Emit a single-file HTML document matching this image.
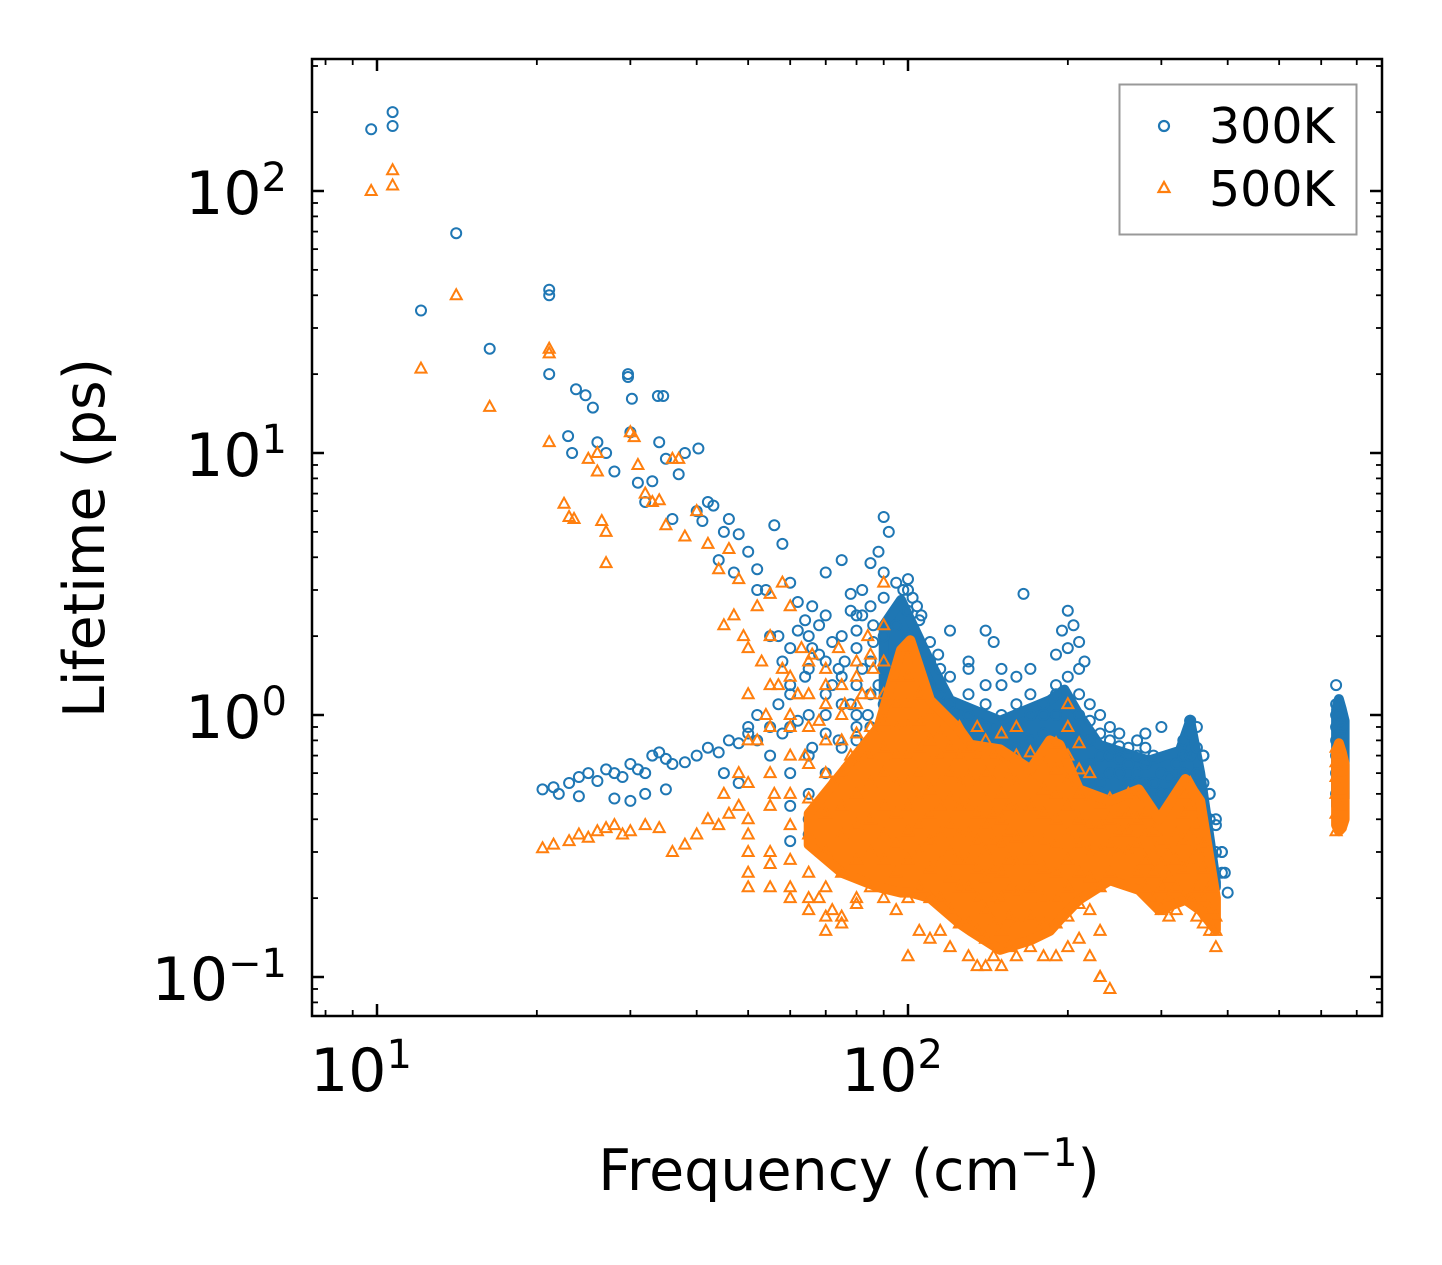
<!DOCTYPE html>
<html><head><meta charset="utf-8"><style>
html,body{margin:0;padding:0;background:#fff;}
svg{display:block;font-family:"DejaVu Sans","Liberation Sans",sans-serif;}
</style></head><body>
<svg id="chart" width="1442" height="1265" viewBox="0 0 1442 1265" xmlns="http://www.w3.org/2000/svg">
<rect x="0" y="0" width="1442" height="1265" fill="#fff"/>
<g id="marks300"></g>
<g id="marks500"></g>
<g id="axes"></g>
<text x="849" y="1190" font-size="57" text-anchor="middle">Frequency (cm<tspan dy="-24" font-size="39">−1</tspan><tspan dy="24">)</tspan></text>
<text transform="translate(104,538) rotate(-90)" font-size="57" text-anchor="middle">Lifetime (ps)</text>
<g>
<rect x="1119.5" y="84.5" width="237" height="150" fill="#fff" stroke="#999" stroke-width="2"/>
<circle cx="1164" cy="126" r="5" fill="none" stroke="#1f77b4" stroke-width="2.2"/>
<text x="1209" y="143" font-size="49">300K</text>
<path d="M1164,182 L1169.5,192 L1158.5,192 Z" fill="none" stroke="#ff7f0e" stroke-width="2.2"/>
<text x="1209" y="206" font-size="49">500K</text>
</g>
</svg>
<script>
// ---- data (frequency cm^-1, lifetime ps) ----
const xTicks = [10, 100];
const yTicks = [100, 10, 1, 0.1];
const xTickLabels = ["10", "10"];
const xTickExps = ["1", "2"];
const yTickLabels = ["10", "10", "10", "10"];
const yTickExps = ["2", "1", "0", "−1"];

const sparse300F = [9.75,10.7,10.7,12.1,14.1,16.3,21.1,21.1,21.1,22.9,23.3,23.7,24.7,25.5,29.7,29.7,30.2,33.8,34.6,40.3,26,27,28,30,31,32,33,34,35,36,37,38,40,41,42,43,45,46,48,50,52,54,56,58,60,62,64,66,68,70,72,75,78,80,82,85,88,90,92,95,98,100,102,104,106,110,114,120,130,140,145,150,160,165,170,180,190,195,200,205,210,215,20.5,21.5,23,24,25,26,27,28,29,30,31,32,33,34,35,36,38,40,42,44,46,48,50,52,55,58,22,24,28,30,32,35,300,320,340,360,370,380,390,395,400,44,47,52,57,
 45,48,50,52,55,57,60,62,64,66,68,70,72,74,76,78,80,82,84,86,88,55,58,62,66,70,74,78,82,86,65,72,78,60,68];
const sparse300T = [172,200,177,35,69,25,42,40,20,11.6,10,17.5,16.6,14.9,20,19.5,16.1,16.5,16.5,10.4,11,10,8.5,12,7.7,6.5,7.8,11,9.5,5.6,8.3,10,6,5.5,6.5,6.3,5,5.6,4.9,4.2,3.6,3.0,5.3,4.5,3.2,2.7,2.3,2.6,2.2,3.5,1.9,3.9,2.5,2.1,3.0,3.8,4.2,5.7,5.0,3.2,3.0,3.3,2.8,2.6,2.4,1.9,1.7,2.1,1.6,2.1,1.9,1.5,1.4,2.9,1.5,1.1,1.2,2.1,2.5,2.2,1.9,1.6,0.52,0.53,0.55,0.58,0.6,0.56,0.62,0.6,0.58,0.65,0.62,0.6,0.7,0.72,0.68,0.65,0.66,0.7,0.75,0.72,0.8,0.78,0.85,0.8,0.9,0.85,0.5,0.49,0.48,0.47,0.5,0.52,0.9,0.5,0.95,0.7,0.5,0.4,0.3,0.25,0.21,3.9,3.5,3.0,2.0,
 0.6,0.55,0.9,1.0,0.7,1.1,1.2,0.95,1.4,0.75,1.7,1.0,1.3,0.8,1.6,1.1,0.9,1.5,1.0,1.9,1.3,2.0,1.6,2.1,1.8,2.4,1.5,2.9,2.4,2.2,0.4,0.35,0.45,0.33,0.3];
const dense300F = [60,65,70,75,80,85,90,95,100,105,110,115,120,130,140,150,160,170,180,190,200,210,220,230,240,250,260,270,280,290,300,310,320,330,340,350,360,370,380,390,640,650,655];
const dense300T = [
 [0.45,0.6,0.9,1.3,1.8],[0.35,0.5,0.7,1.0,1.5,2.0],[0.3,0.45,0.6,0.85,1.2,1.6],[0.32,0.5,0.75,1.1,1.4,2.0],
 [0.35,0.55,0.8,1.0,1.3,1.8,2.4],[0.3,0.45,0.65,0.9,1.2,1.6,2.6],[0.4,0.6,0.85,1.1,1.5,2.0,2.8,3.5],[0.35,0.55,0.8,1.0,1.3,1.7,2.2],
 [0.4,0.6,0.8,1.0,1.3,1.6,2.0,2.5,3.0],[0.5,0.7,0.9,1.2,1.5,1.9,2.3],[0.45,0.6,0.8,1.0,1.3,1.6],[0.4,0.55,0.75,0.95,1.2,1.5],
 [0.3,0.5,0.7,0.9,1.1,1.4],[0.35,0.5,0.65,0.8,1.0,1.2,1.5],[0.3,0.45,0.6,0.75,0.9,1.1,1.3],[0.35,0.5,0.65,0.8,1.0,1.3],
 [0.3,0.45,0.6,0.75,0.9,1.1],[0.35,0.5,0.65,0.8,1.0,1.2],[0.25,0.4,0.55,0.7,0.85,1.0],[0.3,0.45,0.6,0.8,1.0,1.3,1.7],
 [0.3,0.5,0.7,0.9,1.1,1.4,1.8],[0.4,0.6,0.8,1.0,1.2,1.5],[0.5,0.65,0.8,0.95,1.1],[0.55,0.7,0.85,1.0],
 [0.6,0.7,0.8,0.9],[0.6,0.68,0.76,0.85],[0.55,0.65,0.75],[0.6,0.7,0.8],[0.55,0.65,0.75,0.85],[0.45,0.55,0.7],
 [0.4,0.5,0.6],[0.42,0.5,0.58],[0.45,0.55,0.65],[0.5,0.6,0.7,0.8],[0.55,0.7,0.85,0.95],[0.5,0.6,0.75,0.9],
 [0.35,0.45,0.55,0.7],[0.3,0.4,0.5],[0.3,0.38],[0.25,0.3],
 [0.5,0.6,0.7,0.8,0.9,1.0,1.1,1.3],[0.45,0.55,0.65,0.75,0.85,0.95,1.0],[0.5,0.6,0.7,0.8,0.9]];
// dense-cloud envelope (frequency, lower, upper lifetime)
const band300F = [90,97,110,120,149,185,197,210,229,284,325,340,355,380];
const band300Lo = [0.4,0.35,0.32,0.3,0.3,0.3,0.3,0.3,0.3,0.3,0.3,0.3,0.28,0.22];
const band300Hi = [2.2,2.75,1.6,1.14,0.95,1.14,1.25,1.0,0.77,0.67,0.73,0.95,0.6,0.23];
const cluster300F = [640,648,656,664];
const cluster300Lo = [0.45,0.42,0.43,0.48];
const cluster300Hi = [1.05,1.15,1.05,0.95];

const sparse500F = [9.75,10.7,10.7,12.1,14.1,16.3,21.1,21.1,21.1,22.5,23,23.5,25,26,26,26.5,27,27,30,30.5,31,32,33,34,35,36,37,38,40,42,44,46,48,52,55,58,60,63,20.5,21.5,23,24,25,26,27,28,29,30,32,34,36,38,40,42,44,46,48,45,47,49,53,57,62,68,72,100,230,240,
 45,48,50,52,54,56,58,60,62,64,66,68,70,72,74,76,78,80,82,84,86,55,60,65,70,75,80,50];
const sparse500T = [100,105,120,21,40,15,25,24,11,6.4,5.7,5.6,9.5,10,8.5,5.5,3.8,5,12,11.5,9,7,6.5,6.6,5.3,9.5,9.5,4.8,6,4.5,3.6,4.3,3.3,2.6,2.9,3.2,2.6,1.8,0.31,0.32,0.33,0.35,0.34,0.36,0.37,0.38,0.35,0.36,0.38,0.37,0.3,0.32,0.35,0.4,0.38,0.42,0.45,2.2,2.4,2.0,1.6,1.3,1.2,0.2,0.18,0.12,0.1,0.09,
 0.5,0.6,0.35,0.8,1.0,0.5,1.5,0.9,1.2,0.7,1.7,0.95,1.3,0.55,1.8,1.1,0.7,1.6,1.2,2.0,1.5,0.27,0.22,0.2,0.17,0.16,0.19,0.22];
const dense500F = [50,55,60,65,70,75,80,85,90,95,100,105,110,115,120,125,130,135,140,145,150,155,160,170,180,190,200,210,220,230,240,250,260,270,280,290,300,310,320,330,340,350,360,370,380,640,650];
const dense500T = [
 [0.25,0.3,0.4,0.55,0.8,1.2,1.8],[0.22,0.3,0.45,0.6,0.9,1.3,2.0],[0.2,0.28,0.38,0.5,0.7,1.0,1.4],[0.18,0.25,0.35,0.48,0.65,0.9,1.2,1.6],
 [0.15,0.22,0.3,0.42,0.6,0.8,1.1,1.5],[0.17,0.25,0.35,0.45,0.6,0.8,1.0,1.3],[0.2,0.28,0.38,0.5,0.65,0.85,1.1,1.4],[0.22,0.3,0.4,0.55,0.7,0.9,1.2,1.7],
 [0.2,0.28,0.35,0.45,0.6,0.75,0.95,1.2,1.6,2.2,3.2],[0.18,0.25,0.32,0.42,0.55,0.7,0.9,1.1,1.4],[0.2,0.28,0.36,0.45,0.55,0.7,0.9,1.1,1.4,1.8],
 [0.15,0.22,0.3,0.38,0.48,0.6,0.75,0.95,1.2],[0.14,0.2,0.26,0.33,0.42,0.52,0.65,0.8,1.0],[0.15,0.2,0.27,0.35,0.45,0.55,0.7,0.85],
 [0.13,0.18,0.24,0.3,0.38,0.48,0.6,0.75],[0.16,0.22,0.28,0.35,0.45,0.55,0.7,0.9],[0.12,0.16,0.22,0.28,0.35,0.45,0.58,0.75],
 [0.11,0.15,0.2,0.26,0.33,0.42,0.55,0.7,0.9],[0.11,0.14,0.18,0.24,0.3,0.38,0.48,0.6,0.8],[0.12,0.16,0.2,0.26,0.33,0.42,0.55,0.7],
 [0.11,0.15,0.2,0.25,0.32,0.4,0.5,0.65,0.85],[0.13,0.17,0.22,0.28,0.36,0.45,0.58],[0.12,0.16,0.21,0.27,0.34,0.43,0.55,0.7,0.9],
 [0.13,0.17,0.22,0.28,0.35,0.45,0.58,0.72],[0.12,0.16,0.2,0.26,0.33,0.42,0.52,0.65],[0.12,0.16,0.2,0.25,0.32,0.4,0.5,0.62,0.78],
 [0.13,0.17,0.22,0.28,0.35,0.45,0.56,0.7,0.9,1.1],[0.14,0.19,0.25,0.32,0.4,0.5,0.62,0.78],[0.12,0.18,0.24,0.3,0.38,0.48,0.6],
 [0.1,0.15,0.22,0.3,0.38,0.46],[0.25,0.32,0.4,0.48],[0.3,0.36,0.42],[0.3,0.36,0.42,0.5],[0.25,0.32,0.4,0.48],
 [0.22,0.28,0.35,0.42],[0.2,0.25,0.3,0.36],[0.18,0.22,0.27,0.33],[0.17,0.2,0.24,0.3],[0.18,0.22,0.28,0.35],
 [0.2,0.26,0.33,0.42,0.5],[0.2,0.27,0.35,0.45,0.55],[0.17,0.22,0.3,0.38],[0.16,0.2,0.26,0.32],[0.15,0.18,0.22],[0.13,0.15,0.17],
 [0.36,0.42,0.5,0.58,0.66,0.75],[0.38,0.45,0.52,0.6,0.7]];
const band500F = [65,75,88,97,101,110,125,131,149,170,185,193,210,240,272,297,333,355,380];
const band500Lo = [0.32,0.25,0.22,0.21,0.21,0.2,0.16,0.15,0.127,0.138,0.15,0.165,0.197,0.234,0.215,0.18,0.197,0.18,0.151];
const band500Hi = [0.42,0.6,0.9,1.77,1.93,1.14,0.88,0.77,0.74,0.62,0.8,0.77,0.52,0.47,0.52,0.40,0.57,0.47,0.2];
const cluster500F = [640,648,656,664];
const cluster500Lo = [0.38,0.36,0.37,0.4];
const cluster500Hi = [0.72,0.78,0.72,0.65];

// ---- axis functions ----
const PX0 = 312, PX1 = 1382, PY0 = 59, PY1 = 1016;
const xScale = f => 377 + 531 * (Math.log10(f) - 1);
const yScale = t => 715 - 262 * Math.log10(t);
const NS = "http://www.w3.org/2000/svg";
function mk(tag, parent, attrs) {
  const el = document.createElementNS(NS, tag);
  for (const k in attrs) el.setAttribute(k, attrs[k]);
  parent.appendChild(el);
  return el;
}
const g3 = document.getElementById('marks300');
const g5 = document.getElementById('marks500');
function band(parent, F, Lo, Hi, color, name) {
  let d = '';
  F.forEach((f, i) => { d += (i ? 'L' : 'M') + xScale(f).toFixed(1) + ',' + yScale(Hi[i]).toFixed(1); });
  for (let i = F.length - 1; i >= 0; i--) d += 'L' + xScale(F[i]).toFixed(1) + ',' + yScale(Lo[i]).toFixed(1);
  const p = mk('path', parent, {d: d + 'Z', fill: color, stroke: color, 'stroke-width': 10, 'stroke-linejoin': 'round'});
  
  
}
function circle(f, t) {
  const c = mk('circle', g3, {cx: xScale(f).toFixed(1), cy: yScale(t).toFixed(1), r: 5, fill: 'none', stroke: '#1f77b4', 'stroke-width': 2});
  
  
}
function tri(f, t) {
  const x = xScale(f), y = yScale(t);
  const p = mk('path', g5, {d: `M${x},${y-6} L${x+5.5},${y+4} L${x-5.5},${y+4} Z`, fill: 'none', stroke: '#ff7f0e', 'stroke-width': 2});
  
  
}
band(g3, band300F, band300Lo, band300Hi, '#1f77b4', 'cloud-300k');
band(g3, cluster300F, cluster300Lo, cluster300Hi, '#1f77b4', 'cluster-300k');
sparse300F.forEach((f, i) => circle(f, sparse300T[i]));
dense300F.forEach((f, i) => dense300T[i].forEach(t => circle(f, t)));
band(g5, band500F, band500Lo, band500Hi, '#ff7f0e', 'cloud-500k');
band(g5, cluster500F, cluster500Lo, cluster500Hi, '#ff7f0e', 'cluster-500k');
sparse500F.forEach((f, i) => tri(f, sparse500T[i]));
dense500F.forEach((f, i) => dense500T[i].forEach(t => tri(f, t)));

// ---- axes ----
const ax = document.getElementById('axes');
const frame = mk('rect', ax, {x: PX0, y: PY0, width: PX1 - PX0, height: PY1 - PY0, fill: 'none', stroke: '#000', 'stroke-width': 2.5});


function line(x1, y1, x2, y2, w) { return mk('line', ax, {x1, y1, x2, y2, stroke: '#000', 'stroke-width': w}); }
for (let d = 0; d <= 2; d++) for (let m = 1; m <= 9; m++) {
  const v = Math.pow(10, d) * m;
  const x = xScale(v);
  if (x < PX0 || x > PX1) continue;
  const L = m === 1 ? 12 : 6, w = m === 1 ? 2.5 : 1.8;
  const a = line(x, PY1, x, PY1 - L, w);  
  const b = line(x, PY0, x, PY0 + L, w);  
}
for (let d = -2; d <= 2; d++) for (let m = 1; m <= 9; m++) {
  const v = Math.pow(10, d) * m;
  const y = yScale(v);
  if (y < PY0 || y > PY1) continue;
  const L = m === 1 ? 12 : 6, w = m === 1 ? 2.5 : 1.8;
  const a = line(PX0, y, PX0 + L, y, w);  
  const b = line(PX1, y, PX1 - L, y, w);  
}
xTicks.forEach((v, i) => {
  const t = mk('text', ax, {x: xScale(v) - 16, y: 1091, 'font-size': 60, 'text-anchor': 'middle'});
  
  
  t.textContent = xTickLabels[i];
  const s = mk('tspan', t, {dy: -23, 'font-size': 40});
  s.textContent = xTickExps[i];
});
yTicks.forEach((v, i) => {
  const t = mk('text', ax, {x: 287, y: yScale(v) + 23, 'font-size': 60, 'text-anchor': 'end'});
  
  
  t.textContent = yTickLabels[i];
  const s = mk('tspan', t, {dy: -23, 'font-size': 40});
  s.textContent = yTickExps[i];
});
</script>
</body></html>
